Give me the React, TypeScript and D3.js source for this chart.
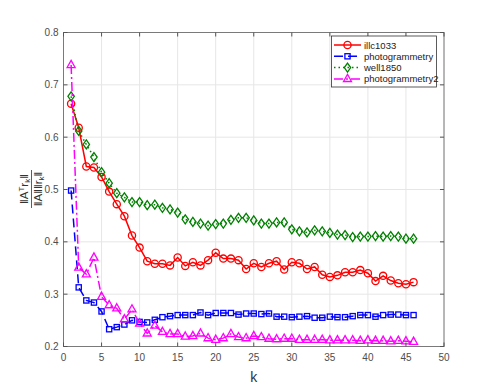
import React from 'react'
import * as d3 from 'd3'

const ks = d3.range(1, 47)

const illc1033 = [0.664, 0.618, 0.544, 0.542, 0.524, 0.496, 0.472, 0.449, 0.412, 0.389,
  0.363, 0.358, 0.358, 0.355, 0.370, 0.354, 0.361, 0.355, 0.365, 0.379,
  0.368, 0.368, 0.365, 0.348, 0.359, 0.352, 0.359, 0.363, 0.347, 0.361,
  0.359, 0.348, 0.352, 0.337, 0.333, 0.336, 0.342, 0.342, 0.346, 0.340,
  0.325, 0.335, 0.326, 0.321, 0.319, 0.323]

const photogrammetry = [0.498, 0.313, 0.288, 0.284, 0.267, 0.233, 0.237, 0.242, 0.250, 0.247,
  0.246, 0.251, 0.256, 0.258, 0.260, 0.260, 0.260, 0.265, 0.260, 0.264,
  0.264, 0.264, 0.261, 0.263, 0.263, 0.262, 0.263, 0.257, 0.257, 0.256,
  0.257, 0.258, 0.255, 0.255, 0.257, 0.256, 0.256, 0.258, 0.260, 0.260,
  0.257, 0.260, 0.261, 0.261, 0.260, 0.260]

const well1850 = [0.678, 0.612, 0.586, 0.562, 0.533, 0.512, 0.493, 0.485, 0.476, 0.476,
  0.470, 0.471, 0.465, 0.462, 0.456, 0.443, 0.438, 0.435, 0.431, 0.434,
  0.435, 0.442, 0.446, 0.446, 0.441, 0.435, 0.435, 0.437, 0.437, 0.424,
  0.420, 0.418, 0.422, 0.420, 0.417, 0.414, 0.413, 0.409, 0.410, 0.410,
  0.411, 0.410, 0.411, 0.410, 0.406, 0.406]

const photogrammetry2 = [0.738, 0.351, 0.338, 0.370, 0.295, 0.279, 0.273, 0.252, 0.271, 0.244,
  0.225, 0.240, 0.228, 0.224, 0.224, 0.219, 0.220, 0.225, 0.216, 0.213,
  0.216, 0.224, 0.218, 0.216, 0.220, 0.218, 0.215, 0.214, 0.215, 0.215,
  0.213, 0.213, 0.213, 0.213, 0.212, 0.212, 0.212, 0.212, 0.211, 0.212,
  0.211, 0.211, 0.210, 0.211, 0.210, 0.209]

const xTicks = d3.range(0, 51, 5)
const yTicks = [0.2, 0.3, 0.4, 0.5, 0.6, 0.7, 0.8]

const series = [
  { name: 'illc1033', values: illc1033, color: '#ff0000', dash: '', marker: 'circle' },
  { name: 'photogrammetry', values: photogrammetry, color: '#0000ff', dash: '9,5', marker: 'square' },
  { name: 'well1850', values: well1850, color: '#008000', dash: '1.5,3', marker: 'diamond' },
  { name: 'photogrammetry2', values: photogrammetry2, color: '#ff00ff', dash: '9,3,2,3', marker: 'triangle' },
]

const left = 63.5, right = 444, top = 32.5, bottom = 346.5
const x = d3.scaleLinear().domain([0, 50]).range([left, right])
const y = d3.scaleLinear().domain([0.2, 0.8]).range([bottom, top])

const font = 'Helvetica, Arial, "Liberation Sans", sans-serif'

function Marker({ type, cx, cy, color }) {
  const common = { fill: 'none', stroke: color, strokeWidth: 1.3 }
  if (type === 'circle') return <circle cx={cx} cy={cy} r={3.6} {...common} />
  if (type === 'square') return <rect x={cx - 2.6} y={cy - 2.6} width={5.2} height={5.2} {...common} />
  if (type === 'diamond') return <path d={`M${cx},${cy - 4.5}L${cx + 3.2},${cy}L${cx},${cy + 4.5}L${cx - 3.2},${cy}Z`} {...common} />
  return <path d={`M${cx},${cy - 4.6}L${cx + 4},${cy + 2.6}L${cx - 4},${cy + 2.6}Z`} {...common} />
}

export default function App() {
  const line = d3.line<number>().x((d, i) => x(ks[i])).y(d => y(d))
  return (
    <svg width={491} height={392} style={{ position: 'absolute', left: 0, top: 0, background: '#fff' }}>
      {/* grid */}
      {xTicks.map(t => (
        <line key={'gx' + t} x1={x(t)} x2={x(t)} y1={top} y2={bottom} stroke="#e6e6e6" strokeWidth={1} />
      ))}
      {yTicks.map(t => (
        <line key={'gy' + t} x1={left} x2={right} y1={y(t)} y2={y(t)} stroke="#e6e6e6" strokeWidth={1} />
      ))}
      {/* series */}
      {series.map(s => (
        <g key={s.name}>
          <path d={line(s.values) || ''} fill="none" stroke={s.color} strokeWidth={1.5} strokeDasharray={s.dash} />
          {s.values.map((v, i) => (
            <Marker key={i} type={s.marker} cx={x(ks[i])} cy={y(v)} color={s.color} />
          ))}
        </g>
      ))}
      {/* box and ticks */}
      <rect x={left} y={top} width={right - left} height={bottom - top} fill="none" stroke="#7a7a7a" strokeWidth={1} />
      {xTicks.map(t => (
        <g key={'tx' + t}>
          <line x1={x(t)} x2={x(t)} y1={bottom} y2={bottom - 4} stroke="#555" />
          <line x1={x(t)} x2={x(t)} y1={top} y2={top + 4} stroke="#555" />
          <text x={x(t)} y={bottom + 14} textAnchor="middle" fontSize={10} fill="#4d4d4d" fontFamily={font}>{t}</text>
        </g>
      ))}
      {yTicks.map(t => (
        <g key={'ty' + t}>
          <line x1={left} x2={left + 4} y1={y(t)} y2={y(t)} stroke="#555" />
          <line x1={right} x2={right - 4} y1={y(t)} y2={y(t)} stroke="#555" />
          <text x={left - 5} y={y(t) + 3.5} textAnchor="end" fontSize={10} fill="#4d4d4d" fontFamily={font}>{t.toFixed(1)}</text>
        </g>
      ))}
      {/* x label */}
      <text x={(left + right) / 2} y={382} textAnchor="middle" fontSize={14} fill="#333" fontFamily={font}>k</text>
      {/* y label: fraction */}
      <g transform={`translate(31.5,189) rotate(-90)`} fontFamily={font} fill="#333" fontSize={11.5}>
        <text x={0} y={-4} textAnchor="middle">
          <tspan>‖A</tspan><tspan dy={-4} fontSize={8}>T</tspan><tspan dy={4}>r</tspan><tspan dy={2.5} fontSize={8}>k</tspan><tspan dy={-2.5}>‖</tspan>
        </text>
        <line x1={-19} x2={19} y1={0} y2={0} stroke="#333" strokeWidth={0.8} />
        <text x={0} y={10} textAnchor="middle">
          <tspan>‖A‖‖r</tspan><tspan dy={2.5} fontSize={8}>k</tspan><tspan dy={-2.5}>‖</tspan>
        </text>
      </g>
      {/* legend */}
      <g>
        <rect x={331.5} y={36} width={105} height={51} fill="#fff" stroke="#333" strokeWidth={0.8} />
        {series.map((s, i) => {
          const ly = 45 + i * 11.3
          return (
            <g key={'lg' + s.name}>
              <line x1={334} x2={361} y1={ly} y2={ly} stroke={s.color} strokeWidth={1.5} strokeDasharray={s.dash} />
              <Marker type={s.marker} cx={347.5} cy={ly} color={s.color} />
              <text x={364} y={ly + 3.5} fontSize={9.5} fill="#222" fontFamily={font}>{s.name}</text>
            </g>
          )
        })}
      </g>
    </svg>
  )
}
